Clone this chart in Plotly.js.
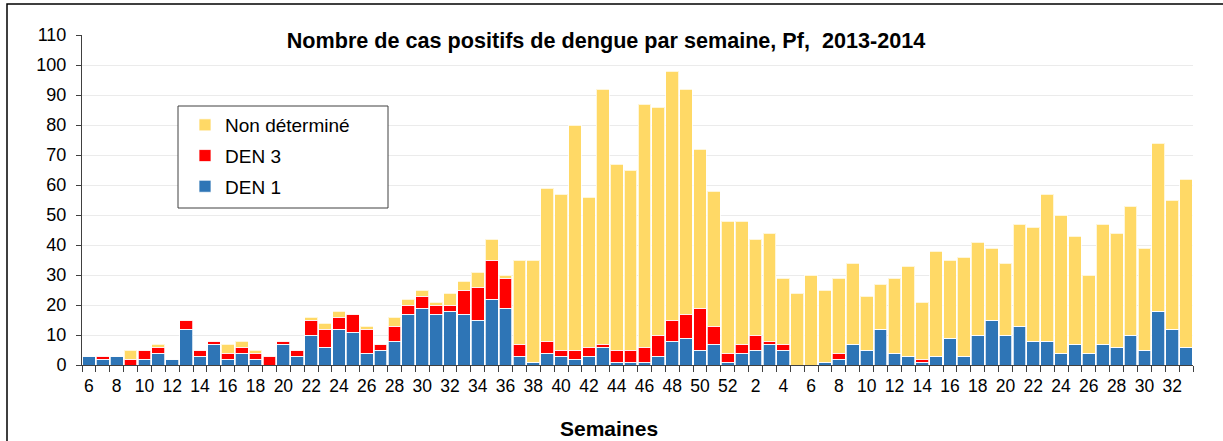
<!DOCTYPE html>
<html>
<head>
<meta charset="utf-8">
<script src="https://cdn.plot.ly/plotly-3.0.1.min.js"></script>
<style>
html,body{margin:0;padding:0;background:#fff;}
#chart{width:1223px;height:441px;}
</style>
</head>
<body>
<div id="chart"></div>
<script>
// Weeks: 2013 weeks 6..52 then 2014 weeks 1..33
const weeks = [6,7,8,9,10,11,12,13,14,15,16,17,18,19,20,21,22,23,24,25,26,27,28,29,30,31,32,33,34,35,36,37,38,39,40,41,42,43,44,45,46,47,48,49,50,51,52,
  1,2,3,4,5,6,7,8,9,10,11,12,13,14,15,16,17,18,19,20,21,22,23,24,25,26,27,28,29,30,31,32,33];

const den1 = [3,2,3,0,2,4,2,12,3,7,2,4,2,0,7,3,10,6,12,11,4,5,8,17,19,17,18,17,15,22,19,3,1,4,3,2,3,6,1,1,1,3,8,9,5,7,1,
  4,5,7,5,0,0,1,2,7,5,12,4,3,1,3,9,3,10,15,10,13,8,8,4,7,4,7,6,10,5,18,12,6];

const den3 = [0,1,0,2,3,2,0,3,2,1,2,2,2,3,1,2,5,6,4,6,8,2,5,3,4,3,2,8,11,13,10,4,0,4,2,3,3,1,4,4,5,7,7,8,14,6,3,
  3,5,1,2,0,0,0,2,0,0,0,0,0,1,0,0,0,0,0,0,0,0,0,0,0,0,0,0,0,0,0,0,0];

const nonDet = [0,0,0,3,0,1,0,0,0,0,3,2,1,0,0,0,1,2,2,0,1,0,3,2,2,1,4,3,5,7,1,28,34,51,52,75,50,85,62,60,81,76,83,75,53,45,44,
  41,32,36,22,24,30,24,25,27,18,15,25,30,19,35,26,33,31,24,24,34,38,49,46,36,26,40,38,43,34,56,43,56];

const idx = weeks.map((w, i) => i);
const tickIdx = idx.filter(i => i % 2 === 0);
const tickLabels = tickIdx.map(i => String(weeks[i]));

const outline = {color: 'rgba(255,255,255,0.75)', width: 1};
const traces = [
  {type: 'bar', name: 'DEN 1', x: idx, y: den1, marker: {color: '#2E75B6', line: outline}, legendgroup: 'c', legendrank: 3},
  {type: 'bar', name: 'DEN 3', x: idx, y: den3, marker: {color: '#FF0000', line: outline}, legendgroup: 'b', legendrank: 2},
  {type: 'bar', name: 'Non déterminé', x: idx, y: nonDet, marker: {color: '#FFD966', line: outline}, legendgroup: 'a', legendrank: 1}
];

const L = 82, R = 1193, T = 35, B = 365;
const pw = R - L, ph = B - T;
const px = v => (v - L) / pw;
const py = v => (B - v) / ph;

const layout = {
  width: 1223, height: 441,
  margin: {l: L, r: 1223 - R, t: T, b: 441 - B},
  paper_bgcolor: '#fff', plot_bgcolor: '#fff',
  barmode: 'stack', bargap: 0.08,
  font: {family: 'Liberation Sans, Arial, sans-serif', color: '#000', size: 17},
  title: {
    text: '<b>Nombre de cas positifs de dengue par semaine, Pf,  2013-2014</b>',
    font: {size: 21.6, color: '#000'},
    xref: 'container', x: 606 / 1223, xanchor: 'center',
    yref: 'container', y: 1 - 40 / 441, yanchor: 'middle'
  },
  xaxis: {
    range: [-0.5, weeks.length - 0.5],
    tickmode: 'array', tickvals: tickIdx, ticktext: tickLabels,
    ticks: '', showgrid: false, zeroline: false,
    showline: true, linecolor: '#404040', linewidth: 1,
    tickfont: {size: 17.5}, ticklabelstandoff: 5,
    minor: {tickmode: 'linear', tick0: -0.5, dtick: 1, ticks: 'outside', ticklen: 6, tickcolor: '#404040', tickwidth: 1, showgrid: false}
  },
  yaxis: {
    range: [0, 110], dtick: 10, tick0: 0,
    ticks: 'outside', ticklen: 5, tickcolor: '#404040',
    showline: true, linecolor: '#404040', linewidth: 1,
    showgrid: true, gridcolor: '#ebebeb', gridwidth: 1,
    zeroline: false, tickfont: {size: 18}, ticklabelstandoff: 6
  },
  legend: {
    x: px(185), y: py(106), xanchor: 'left', yanchor: 'top',
    bgcolor: 'rgba(0,0,0,0)', borderwidth: 0,
    font: {size: 19}, traceorder: 'grouped', tracegroupgap: 3,
    itemwidth: 30
  },
  annotations: [{
    text: '<b>Semaines</b>', showarrow: false,
    xref: 'paper', yref: 'paper', x: px(609), y: py(428),
    xanchor: 'center', yanchor: 'middle', font: {size: 21}
  }],
  shapes: [
    {
      type: 'rect', xref: 'paper', yref: 'paper',
      x0: px(7), x1: px(1240), y0: py(4), y1: py(460),
      line: {color: '#000', width: 1.5}, fillcolor: 'rgba(0,0,0,0)', layer: 'above'
    },
    {
      type: 'rect', xref: 'paper', yref: 'paper',
      x0: px(178), x1: px(388), y0: py(106), y1: py(208),
      line: {color: '#404040', width: 1}, fillcolor: '#fff', layer: 'above'
    }
  ]
};

Plotly.newPlot('chart', traces, layout, {displayModeBar: false, staticPlot: true});
</script>
</body>
</html>
